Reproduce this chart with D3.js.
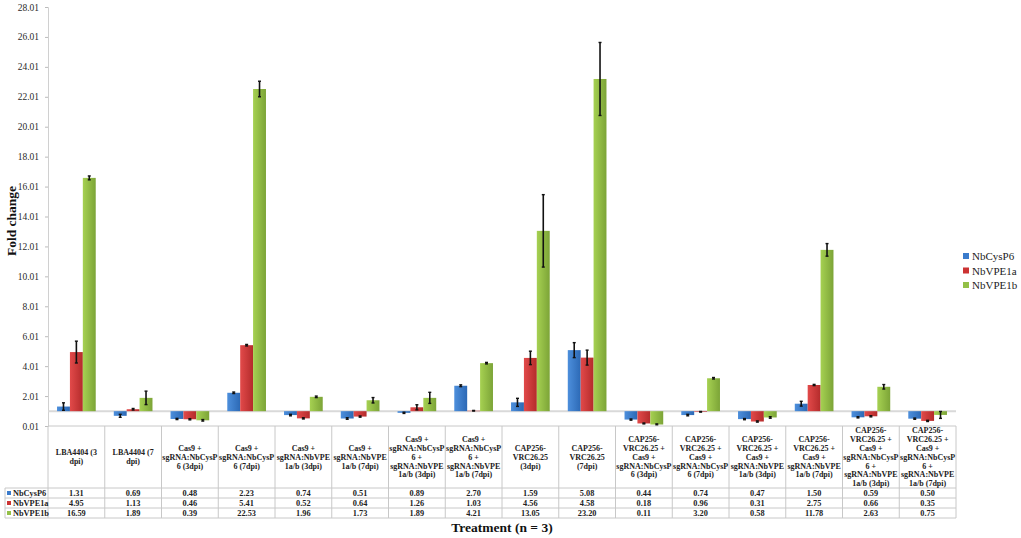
<!DOCTYPE html>
<html><head><meta charset="utf-8">
<script src="https://cdn.jsdelivr.net/npm/d3@7"></script>
<style>body{margin:0;background:#fff}svg{display:block}</style>
</head><body>
<script>
const categories = [
 "LBA4404 (3\ndpi)", "LBA4404 (7\ndpi)",
 "Cas9 +\nsgRNA:NbCysP\n6 (3dpi)", "Cas9 +\nsgRNA:NbCysP\n6 (7dpi)",
 "Cas9 +\nsgRNA:NbVPE\n1a/b (3dpi)", "Cas9 +\nsgRNA:NbVPE\n1a/b (7dpi)",
 "Cas9 +\nsgRNA:NbCysP\n6 +\nsgRNA:NbVPE\n1a/b (3dpi)", "Cas9 +\nsgRNA:NbCysP\n6 +\nsgRNA:NbVPE\n1a/b (7dpi)",
 "CAP256-\nVRC26.25\n(3dpi)", "CAP256-\nVRC26.25\n(7dpi)",
 "CAP256-\nVRC26.25 +\nCas9 +\nsgRNA:NbCysP\n6 (3dpi)", "CAP256-\nVRC26.25 +\nCas9 +\nsgRNA:NbCysP\n6 (7dpi)",
 "CAP256-\nVRC26.25 +\nCas9 +\nsgRNA:NbVPE\n1a/b (3dpi)", "CAP256-\nVRC26.25 +\nCas9 +\nsgRNA:NbVPE\n1a/b (7dpi)",
 "CAP256-\nVRC26.25 +\nCas9 +\nsgRNA:NbCysP\n6 +\nsgRNA:NbVPE\n1a/b (3dpi)", "CAP256-\nVRC26.25 +\nCas9 +\nsgRNA:NbCysP\n6 +\nsgRNA:NbVPE\n1a/b (7dpi)"
];
const seriesNames = ["NbCysP6", "NbVPE1a", "NbVPE1b"];
const valCysP6 = [1.31,0.69,0.48,2.23,0.74,0.51,0.89,2.70,1.59,5.08,0.44,0.74,0.47,1.50,0.59,0.50];
const valVPE1a = [4.95,1.13,0.46,5.41,0.52,0.64,1.26,1.03,4.56,4.58,0.18,0.96,0.31,2.75,0.66,0.35];
const valVPE1b = [16.59,1.89,0.39,22.53,1.96,1.73,1.89,4.21,13.05,23.20,0.11,3.20,0.58,11.78,2.63,0.75];
const errCysP6 = [0.25,0.10,0.04,0.05,0.05,0.05,0.04,0.06,0.27,0.50,0.04,0.05,0.04,0.16,0.04,0.04];
const errVPE1a = [0.73,0.05,0.04,0.05,0.04,0.04,0.17,0.02,0.45,0.50,0.03,0.02,0.04,0.04,0.04,0.04];
const errVPE1b = [0.13,0.45,0.05,0.52,0.05,0.18,0.37,0.05,2.42,2.44,0.04,0.05,0.05,0.42,0.15,0.23];
const yTicks = [0.01,2.01,4.01,6.01,8.01,10.01,12.01,14.01,16.01,18.01,20.01,22.01,24.01,26.01,28.01];
const baseValue = 1;

const values = [valCysP6, valVPE1a, valVPE1b];
const errors = [errCysP6, errVPE1a, errVPE1b];
const colors = [["#4d8fdc","#2c69b5"],["#e24a4a","#b42b2b"],["#a6d152","#7ca437"]];
const keyColors = ["#3a7bcc","#cc3333","#93c047"];
const FONT = "'Liberation Serif','Times New Roman',serif";

const W = 1021, H = 538;
const svg = d3.select("body").append("svg").attr("width", W).attr("height", H)
  .attr("font-family", FONT).style("font-family", FONT);

const defs = svg.append("defs");
colors.forEach((c, i) => {
  const g = defs.append("linearGradient").attr("id", "g" + i).attr("x1", "0").attr("x2", "1").attr("y1", "0").attr("y2", "0");
  g.append("stop").attr("offset", "0").attr("stop-color", c[0]);
  g.append("stop").attr("offset", "1").attr("stop-color", c[1]);
});

const plotLeft = 48, plotRight = 956, plotTop = 7, plotBottom = 426;
const y = d3.scaleLinear().domain([0.01, 28.01]).range([plotBottom, plotTop]);
const x0 = d3.scaleBand().domain(categories.map((d, i) => i)).range([plotLeft, plotRight]).padding(0);
const x1 = d3.scaleBand().domain(seriesNames).range([0, x0.bandwidth()]).paddingInner(0).paddingOuter(0.7);

// Y axis
const yAxis = d3.axisLeft(y).tickValues(yTicks).tickFormat(d3.format(".2f")).tickSize(3).tickPadding(6);
const ga = svg.append("g").attr("transform", `translate(${plotLeft},0)`).call(yAxis)
  .attr("font-family", FONT);
ga.select(".domain").attr("stroke", "#d0d0d0");
ga.selectAll(".tick line").attr("stroke", "#bbbbbb");
ga.selectAll(".tick text").attr("fill", "#2a2a2a").style("font-size", "9.5px").style("font-family", FONT);

// baseline
svg.append("line").attr("x1", plotLeft).attr("x2", plotRight)
  .attr("y1", y(baseValue)).attr("y2", y(baseValue)).attr("stroke", "#d9d9d9").attr("stroke-width", 2);

// bars
seriesNames.forEach((s, si) => {
  const g = svg.append("g");
  g.selectAll("rect").data(values[si]).join("rect")
    .attr("x", (d, i) => x0(i) + x1(s))
    .attr("width", x1.bandwidth())
    .attr("y", d => Math.min(y(d), y(baseValue)))
    .attr("height", d => Math.abs(y(d) - y(baseValue)))
    .attr("fill", `url(#g${si})`);
});
// error bars
seriesNames.forEach((s, si) => {
  const g = svg.append("g");
  const cx = i => x0(i) + x1(s) + x1.bandwidth() / 2;
  g.selectAll("line.v").data(values[si]).join("line").attr("class", "v")
    .attr("x1", (d, i) => cx(i)).attr("x2", (d, i) => cx(i))
    .attr("y1", (d, i) => y(d + errors[si][i]))
    .attr("y2", (d, i) => y(d - errors[si][i]))
    .attr("stroke", "#111").attr("stroke-width", 1.6);
  [1, -1].forEach(sg => {
    g.selectAll("line.c" + (sg > 0 ? "a" : "b")).data(values[si]).join("line").attr("class", "c" + (sg > 0 ? "a" : "b"))
      .attr("x1", (d, i) => cx(i) - 1.5).attr("x2", (d, i) => cx(i) + 1.5)
      .attr("y1", (d, i) => y(d + sg * errors[si][i]))
      .attr("y2", (d, i) => y(d + sg * errors[si][i]))
      .attr("stroke", "#111").attr("stroke-width", 1.4);
  });
});

// data table
const tableTop = plotBottom, headerBottom = 488, rowH = 10, tableLeft = 5;
const gridC = "#c8c8c8";
const tg = svg.append("g");
tg.append("line").attr("x1", plotLeft).attr("x2", plotRight).attr("y1", tableTop).attr("y2", tableTop).attr("stroke", gridC);
for (let r = 0; r <= 3; r++) {
  tg.append("line").attr("x1", tableLeft).attr("x2", plotRight)
    .attr("y1", headerBottom + r * rowH).attr("y2", headerBottom + r * rowH).attr("stroke", gridC);
}
tg.append("line").attr("x1", tableLeft).attr("x2", tableLeft).attr("y1", headerBottom).attr("y2", headerBottom + 3 * rowH).attr("stroke", gridC);
categories.forEach((c, i) => {
  tg.append("line").attr("x1", x0(i)).attr("x2", x0(i)).attr("y1", tableTop).attr("y2", headerBottom + 3 * rowH).attr("stroke", gridC);
});
tg.append("line").attr("x1", plotRight).attr("x2", plotRight).attr("y1", tableTop).attr("y2", headerBottom + 3 * rowH).attr("stroke", gridC);

// category labels
const lh = 8.8;
categories.forEach((c, i) => {
  const lines = c.split("\n");
  const cy = (tableTop + headerBottom) / 2;
  const t = tg.append("text").attr("text-anchor", "middle")
    .style("font-size", "8px").style("font-weight", "bold").attr("fill", "#222");
  lines.forEach((ln, k) => {
    t.append("tspan").attr("x", x0(i) + x0.bandwidth() / 2)
      .attr("y", cy + (k - (lines.length - 1) / 2) * lh + 2.8).text(ln);
  });
});
// rows
seriesNames.forEach((s, si) => {
  const ry = headerBottom + si * rowH + rowH / 2 + 2.9;
  tg.append("rect").attr("x", 7).attr("y", headerBottom + si * rowH + 3).attr("width", 4).attr("height", 4).attr("fill", keyColors[si]);
  tg.append("text").attr("x", 13).attr("y", ry).style("font-size", "8.3px").style("font-weight", "bold").attr("fill", "#222").text(s);
  values[si].forEach((v, i) => {
    tg.append("text").attr("x", x0(i) + x0.bandwidth() / 2).attr("y", ry).attr("text-anchor", "middle")
      .style("font-size", "8.3px").style("font-weight", "bold").attr("fill", "#222").text(v.toFixed(2));
  });
});

// axis titles
svg.append("text").attr("transform", `translate(16,221) rotate(-90)`)
  .attr("text-anchor", "middle").style("font-size", "13.5px").style("font-weight", "bold").attr("fill", "#111").text("Fold change");
svg.append("text").attr("x", 502).attr("y", 532).attr("text-anchor", "middle")
  .style("font-size", "13.5px").style("font-weight", "bold").attr("fill", "#111").text("Treatment (n = 3)");

// legend
const lg = svg.append("g");
seriesNames.forEach((s, si) => {
  const ly = 256 + si * 14.5;
  lg.append("rect").attr("x", 963).attr("y", ly - 3).attr("width", 6).attr("height", 6).attr("fill", keyColors[si]);
  lg.append("text").attr("x", 972).attr("y", ly + 4).style("font-size", "11px").attr("fill", "#222").text(s);
});
</script>
</body></html>
